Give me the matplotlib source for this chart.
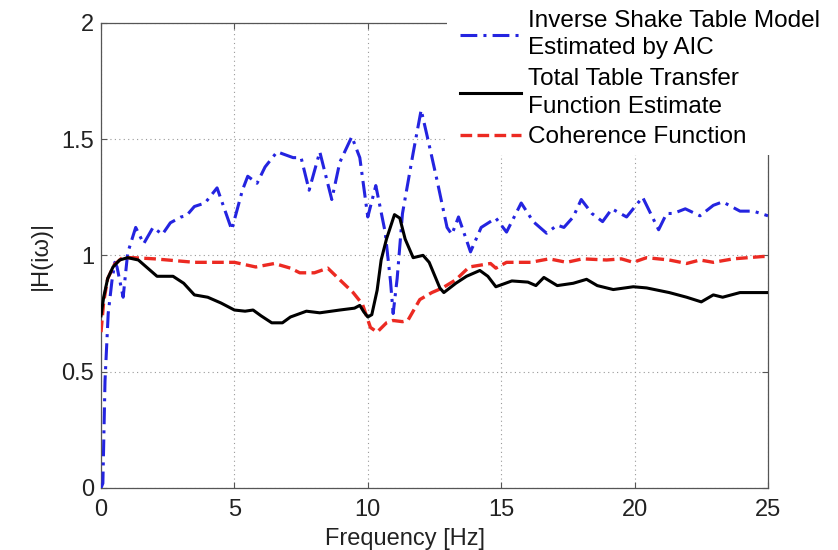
import numpy as np
import matplotlib
matplotlib.use("Agg")
from matplotlib import pyplot as plt
from matplotlib.patches import Rectangle

plt.rcParams["font.family"] = ["Liberation Sans", "DejaVu Sans"]

# inverse shake table model (AIC)
freq_inv = [0, 0.07, 0.15, 0.27, 0.41, 0.52, 0.6, 0.83, 1.0, 1.3, 1.6, 1.95, 2.3, 2.6, 3.0, 3.2,
            3.5, 3.9, 4.35, 4.9, 5.3, 5.5, 5.85, 6.15, 6.6, 7.2, 7.5, 7.8, 8.2, 8.65, 8.95, 9.4,
            9.7, 10.0, 10.3, 10.65, 10.85, 10.95, 11.1, 11.3, 11.7, 12.0, 12.25, 12.6, 12.97,
            13.15, 13.4, 13.85, 14.25, 14.8, 15.2, 15.75, 16.2, 16.7, 17.1, 17.35, 17.7, 18.0,
            18.4, 18.8, 19.15, 19.7, 20.3, 20.6, 20.9, 21.2, 21.45, 21.9, 22.45, 22.95, 23.3,
            23.95, 24.45, 25.0]
mag_inv = [0, 0.02, 0.46, 0.75, 0.89, 0.97, 0.95, 0.82, 1.01, 1.12, 1.05, 1.12, 1.09, 1.14, 1.165,
           1.17, 1.21, 1.225, 1.29, 1.11, 1.28, 1.34, 1.31, 1.38, 1.445, 1.42, 1.42, 1.28, 1.445,
           1.24, 1.40, 1.51, 1.42, 1.165, 1.30, 1.10, 0.89, 0.75, 0.9, 1.18, 1.44, 1.625, 1.50,
           1.32, 1.12, 1.09, 1.165, 1.015, 1.12, 1.16, 1.10, 1.225, 1.145, 1.095, 1.13, 1.12,
           1.165, 1.24, 1.18, 1.145, 1.20, 1.165, 1.25, 1.18, 1.11, 1.18, 1.18, 1.20, 1.17,
           1.215, 1.23, 1.19, 1.19, 1.17]

# total table transfer function estimate
freq_tot = [0, 0.1, 0.25, 0.45, 0.7, 1.0, 1.4, 1.7, 2.1, 2.7, 3.1, 3.5, 4.0, 4.5, 5.0, 5.4, 5.7,
            6.0, 6.4, 6.8, 7.1, 7.7, 8.2, 8.95, 9.5, 9.7, 9.85, 10.0, 10.15, 10.35, 10.5, 10.7,
            11.0, 11.2, 11.4, 11.7, 12.07, 12.3, 12.7, 12.85, 13.3, 13.7, 14.2, 14.5, 14.8, 15.4,
            16.0, 16.3, 16.6, 17.1, 17.7, 18.2, 18.6, 19.2, 19.95, 20.45, 21.3, 21.95, 22.5,
            22.95, 23.3, 23.95, 25.0]
mag_tot = [0.74, 0.82, 0.9, 0.95, 0.98, 0.99, 0.98, 0.95, 0.91, 0.91, 0.88, 0.83, 0.82, 0.795,
           0.765, 0.76, 0.765, 0.74, 0.71, 0.71, 0.735, 0.76, 0.753, 0.765, 0.773, 0.785, 0.757,
           0.735, 0.745, 0.85, 0.98, 1.07, 1.175, 1.16, 1.07, 0.99, 1.0, 0.97, 0.86, 0.84, 0.88,
           0.91, 0.935, 0.91, 0.865, 0.89, 0.885, 0.87, 0.905, 0.87, 0.88, 0.897, 0.87, 0.853,
           0.865, 0.86, 0.84, 0.82, 0.80, 0.83, 0.82, 0.84, 0.84]

# coherence function
freq_coh = [0, 0.1, 0.25, 0.5, 0.8, 1.2, 2.0, 3.5, 5.0, 5.8, 6.5, 7.1, 7.45, 8.0, 8.5, 8.95, 9.45,
            9.8, 10.1, 10.35, 10.7, 10.95, 11.3, 11.5, 11.95, 12.4, 12.8, 13.3, 13.8, 14.6, 14.8,
            15.2, 16.1, 16.8, 17.45, 18.05, 18.95, 19.5, 19.95, 20.45, 21.3, 21.95, 22.45, 22.95,
            23.7, 24.8, 25.0]
mag_coh = [0.67, 0.8, 0.9, 0.96, 0.99, 0.99, 0.985, 0.97, 0.97, 0.95, 0.965, 0.945, 0.925, 0.925,
           0.945, 0.895, 0.84, 0.79, 0.69, 0.67, 0.71, 0.72, 0.715, 0.72, 0.81, 0.84, 0.86, 0.895,
           0.95, 0.965, 0.945, 0.97, 0.97, 0.985, 0.97, 0.985, 0.98, 0.985, 0.97, 0.99, 0.98,
           0.965, 0.98, 0.97, 0.985, 0.995, 0.995]

labels = ["Inverse Shake Table Model\nEstimated by AIC",
          "Total Table Transfer\nFunction Estimate",
          "Coherence Function"]
xticks = [0, 5, 10, 15, 20, 25]
yticks = [0, 0.5, 1, 1.5, 2]

fs = 17
fig = plt.figure(figsize=(8.38, 5.5), dpi=100)
ax = fig.add_axes([101/838, 1 - 488/550, 667/838, 465.3/550])

blue = "#2424e0"
red = "#ec2a22"
l1, = ax.plot(freq_inv, mag_inv, color=blue, lw=2.2, dashes=(5.5, 2, 1, 2), zorder=3)
l2, = ax.plot(freq_tot, mag_tot, color="black", lw=2.2, zorder=4)
l3, = ax.plot(freq_coh, mag_coh, color=red, lw=2.4, dashes=(3.5, 1.6), zorder=3)

ax.set_xlim(0, 25)
ax.set_ylim(0, 2)
ax.set_xticks(xticks)
ax.set_yticks(yticks)
ax.set_yticklabels(["0", "0.5", "1", "1.5", "2"])
ax.grid(True, linestyle=(0, (1, 3)), color="#999999", linewidth=0.8)
ax.tick_params(direction="in", length=4, color="#555555", labelsize=fs, labelcolor="#222222",
               top=True, right=True)
ax.tick_params(axis="x", pad=8)
ax.tick_params(axis="y", pad=5)
for s in ax.spines.values():
    s.set_color("#555555")
    s.set_linewidth(0.9)
ax.set_xlabel("Frequency [Hz]", fontsize=fs, color="#222222")
ax.xaxis.set_label_coords(0.456, -0.086)
ax.set_ylabel("|H(iω)|", fontsize=fs, color="#222222")
ax.yaxis.set_label_coords(-0.073, 0.5)

# white panel behind the legend, covering the top-right corner of the box
fig.add_artist(Rectangle((447/838, 1 - 155/550), 1, 1, transform=fig.transFigure,
                         facecolor="white", edgecolor="none", zorder=3))
leg = fig.legend([l1, l2, l3], labels, loc="upper left", bbox_to_anchor=(460/838, 1 - 10/550),
                 frameon=False, fontsize=17.5, handlelength=2.5, handletextpad=0.3,
                 labelspacing=0.36, borderpad=0, borderaxespad=0)
for t in leg.get_texts():
    t.set_linespacing(1.32)

plt.savefig("out.png", dpi=100)
